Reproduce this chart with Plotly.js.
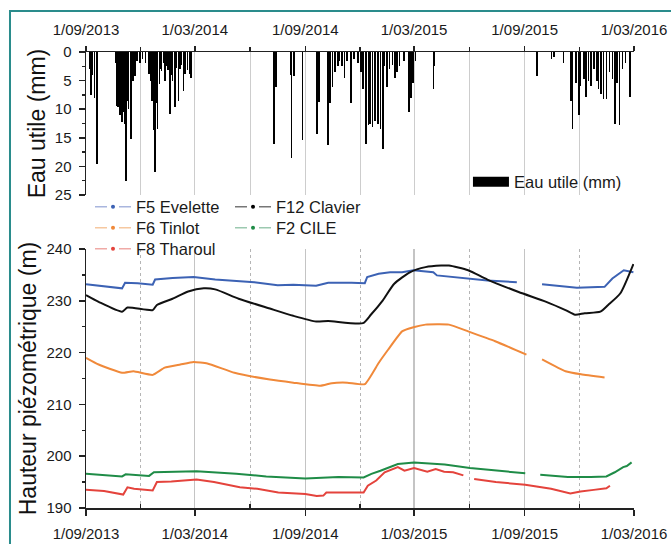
<!DOCTYPE html>
<html>
<head>
<meta charset="utf-8">
<script src="https://cdn.plot.ly/plotly-3.0.1.min.js"></script>
<style>html,body{margin:0;padding:0;background:#fff;}#chart{width:671px;height:544px;}</style>
</head>
<body>
<div id="chart"></div>
<script>
// ---------- Data ----------
const majorTicks = ['2013-09-01','2014-03-01','2014-09-01','2015-03-01','2015-09-01','2016-03-01'];
const majorLabels = ['1/09/2013','1/03/2014','1/09/2014','1/03/2015','1/09/2015','1/03/2016'];
const minorTicks = ['2013-12-01','2014-06-01','2014-12-01','2015-06-01','2015-12-01'];

// Eau utile (mm)
const rainDates = [
 '2013-09-08','2013-09-09','2013-09-12','2013-09-15','2013-09-19',
 '2013-10-20','2013-10-22','2013-10-24','2013-10-26','2013-10-28','2013-10-30','2013-10-31','2013-11-02','2013-11-04','2013-11-07','2013-11-09','2013-11-11','2013-11-15','2013-11-18','2013-11-20','2013-11-22','2013-11-25',
 '2013-11-30','2013-12-04','2013-12-09','2013-12-15','2013-12-18','2013-12-20','2013-12-23','2013-12-25','2013-12-27','2013-12-29','2014-01-01','2014-01-03','2014-01-05','2014-01-08','2014-01-10','2014-01-13','2014-01-15','2014-01-19','2014-01-21','2014-01-23','2014-01-27','2014-01-29','2014-02-02','2014-02-04','2014-02-06','2014-02-10','2014-02-13','2014-02-17','2014-02-21','2014-02-23',
 '2014-07-11','2014-07-14','2014-08-08','2014-08-09','2014-08-13','2014-08-27','2014-09-20','2014-09-24','2014-10-09','2014-10-12','2014-10-16','2014-10-20','2014-10-25','2014-10-28','2014-11-01','2014-11-05','2014-11-09','2014-11-16','2014-11-21','2014-11-28','2014-12-03','2014-12-06','2014-12-11','2014-12-15','2014-12-18','2014-12-22','2014-12-26','2014-12-31','2015-01-04','2015-01-08','2015-01-11','2015-01-15','2015-01-19','2015-01-24','2015-01-28','2015-02-01','2015-02-05','2015-02-12','2015-02-21','2015-02-24','2015-02-27','2015-03-03','2015-04-02','2015-04-04',
 '2015-09-22','2015-10-16','2015-10-20','2015-11-05','2015-11-17','2015-11-20','2015-11-25','2015-11-30','2015-12-03','2015-12-09','2015-12-12','2015-12-16','2015-12-20','2015-12-25','2015-12-30','2016-01-02','2016-01-06','2016-01-10','2016-01-15','2016-01-20','2016-01-25','2016-01-29','2016-02-02','2016-02-06','2016-02-11','2016-02-16','2016-02-23'
];
const rainValues = [
 3.0,7.5,4.0,8.0,19.5,
 2.0,9.5,9.7,8.0,11.0,9.0,12.3,10.5,12.5,22.5,8.5,10.0,15.2,5.0,2.5,4.2,1.5,
 2.0,1.3,2.0,3.9,5.0,8.5,13.7,21.0,9.0,13.4,5.6,3.0,3.3,2.0,5.0,2.5,3.2,10.8,4.0,5.0,9.7,2.8,8.5,3.0,2.2,6.8,3.8,3.2,3.8,4.6,
 16.0,6.2,4.0,18.6,4.2,15.4,14.3,8.8,16.3,9.0,6.2,3.5,2.5,1.5,2.5,4.5,1.5,9.0,1.2,2.0,3.5,6.5,16.0,12.8,12.6,13.1,12.0,12.6,13.4,16.9,2.5,6.2,3.0,2.2,4.5,3.5,2.5,1.5,10.5,8.0,5.5,1.5,6.5,2.5,
 4.2,1.2,0.9,2.0,8.5,13.4,5.5,11.1,6.0,4.7,7.9,5.0,6.0,3.0,5.0,6.5,7.3,8.2,8.2,3.5,4.7,12.6,5.5,12.8,3.0,2.0,7.9
];

// F5 Evelette
const f5Dates = ['2013-09-01','2013-09-22','2013-10-31','2013-11-05','2013-11-26','2013-12-21','2013-12-25','2014-01-23','2014-02-27','2014-04-04','2014-06-08','2014-07-17','2014-08-12','2014-09-19','2014-10-09','2014-11-17','2014-12-09','2014-12-13','2015-01-01','2015-01-20','2015-02-09','2015-02-28','2015-04-02','2015-04-08','2015-05-30','2015-07-01','2015-08-19','2015-09-10','2015-09-30','2015-11-08','2015-11-27','2016-01-12','2016-01-25','2016-02-13','2016-02-29'];
const f5Values = [233.2,232.9,232.4,233.5,233.4,233.1,234.1,234.4,234.6,234.1,233.6,233.0,233.1,232.9,233.5,233.5,233.4,234.6,235.2,235.5,235.5,235.9,235.5,234.9,234.3,233.9,233.6,null,233.2,232.7,232.5,232.7,234.3,235.9,235.5];

// F12 Clavier
const f12Dates = ['2013-09-01','2013-09-22','2013-10-31','2013-11-09','2013-12-21','2013-12-28','2014-01-23','2014-02-18','2014-03-16','2014-04-04','2014-05-13','2014-07-04','2014-08-12','2014-09-19','2014-10-09','2014-12-06','2014-12-19','2015-01-08','2015-01-27','2015-02-22','2015-03-20','2015-04-15','2015-04-28','2015-05-30','2015-07-01','2015-08-22','2015-10-07','2015-11-08','2015-11-24','2015-12-10','2016-01-05','2016-01-18','2016-02-07','2016-02-29'];
const f12Values = [231.1,229.8,227.9,228.7,228.2,229.2,230.4,231.8,232.4,232.2,230.4,228.5,227.1,226.0,226.1,225.7,227.3,230.1,233.3,235.5,236.5,236.8,236.8,235.9,234.1,231.7,229.8,228.2,227.3,227.6,227.9,229.2,231.4,237.1];

// F6 Tinlot
const f6Dates = ['2013-09-01','2013-09-22','2013-10-31','2013-11-19','2013-12-21','2014-01-10','2014-02-05','2014-02-27','2014-03-22','2014-05-06','2014-07-04','2014-08-12','2014-09-26','2014-10-15','2014-11-10','2014-12-09','2015-01-01','2015-01-17','2015-02-09','2015-02-28','2015-03-20','2015-04-28','2015-05-30','2015-07-14','2015-09-04','2015-09-15','2015-09-30','2015-11-08','2015-12-04','2016-01-12'];
const f6Values = [219.0,217.7,216.1,216.4,215.7,217.1,217.7,218.2,217.9,216.1,214.8,214.2,213.6,214.1,214.2,213.9,218.0,220.6,224.1,224.9,225.4,225.4,224.1,222.2,219.6,null,218.7,216.4,215.8,215.2];

// F2 CILE
const f2Dates = ['2013-09-01','2013-10-01','2013-10-31','2013-11-06','2013-12-15','2013-12-23','2014-01-29','2014-03-04','2014-05-09','2014-06-28','2014-09-01','2014-10-01','2014-10-26','2014-12-07','2014-12-20','2015-01-04','2015-01-19','2015-02-02','2015-03-01','2015-04-21','2015-06-02','2015-07-23','2015-09-02','2015-09-15','2015-09-27','2015-11-12','2015-12-20','2016-01-15','2016-01-29','2016-02-12','2016-02-18','2016-02-26'];
const f2Values = [196.6,196.4,196.1,196.5,196.2,196.9,197.0,197.1,196.6,196.1,195.7,195.8,196.0,195.9,196.6,197.2,197.9,198.5,198.8,198.4,197.7,197.1,196.7,null,196.4,196.0,196.0,196.1,196.9,197.9,198.1,198.8];

// F8 Tharoul
const f8Dates = ['2013-09-01','2013-10-01','2013-11-02','2013-11-06','2013-11-09','2013-11-20','2013-12-21','2013-12-28','2014-01-21','2014-03-04','2014-04-02','2014-05-15','2014-06-13','2014-07-18','2014-09-01','2014-09-20','2014-10-01','2014-10-06','2014-12-07','2014-12-14','2014-12-28','2015-01-11','2015-01-26','2015-02-02','2015-02-13','2015-03-01','2015-03-23','2015-04-06','2015-04-20','2015-05-05','2015-05-22','2015-06-01','2015-06-09','2015-07-15','2015-09-02','2015-10-15','2015-11-16','2015-12-03','2015-12-25','2016-01-15','2016-01-21'];
const f8Values = [193.5,193.3,192.6,193.3,194.0,193.7,193.4,195.0,195.1,195.5,195.0,194.0,193.7,193.0,192.7,192.3,192.4,193.0,193.0,194.3,195.3,196.9,197.5,197.9,197.2,197.7,197.0,197.5,197.0,196.9,196.3,null,195.6,195.0,194.5,193.7,192.8,193.2,193.5,193.8,194.3];

const yTopTicks = [0,5,10,15,20,25];
const yBotTicks = [190,200,210,220,230,240];
const yBotGrid = [200,210,220,230];

// ---------- Styles ----------
const C = {blue:'#3c62b4', black:'#111111', orange:'#f0893a', green:'#1f8c47', red:'#e4433c'};
const CL = {blue:'#a9b6de', black:'#777777', orange:'#f6c8a0', green:'#9cc9b0', red:'#f0aaa6'};
const FONT = 'Liberation Sans, Arial, sans-serif';

function series(x, y, color, smooth) {
  const ln = {color:color, width:2};
  if (smooth) { ln.shape = 'spline'; ln.smoothing = smooth; }
  return {x:x, y:y, type:'scatter', mode:'lines', xaxis:'x2', yaxis:'y2',
          line:ln, connectgaps:false, showlegend:false, hoverinfo:'skip'};
}
function legendEntry(name, color, dotColor, legend) {
  return {x:[null], y:[null], type:'scatter', mode:'lines+markers', xaxis:'x2', yaxis:'y2',
          name:name, legend:legend, showlegend:true,
          line:{color:color, width:1.5, dash:'12px,12px'},
          marker:{color:dotColor, size:4}};
}

const traces = [
  {x:rainDates, y:rainValues, type:'bar', xaxis:'x', yaxis:'y', base:0,
   width:2.6*86400000, marker:{color:'#000', line:{width:0}}, showlegend:false, hoverinfo:'skip'},
  series(f5Dates, f5Values, C.blue),
  series(f12Dates, f12Values, C.black, 0.6),
  series(f6Dates, f6Values, C.orange, 0.4),
  series(f2Dates, f2Values, C.green),
  series(f8Dates, f8Values, C.red),
  legendEntry('F5 Evelette', CL.blue, C.blue, 'legend'),
  legendEntry('F6 Tinlot', CL.orange, C.orange, 'legend2'),
  legendEntry('F8 Tharoul', CL.red, C.red, 'legend3'),
  legendEntry('F12 Clavier', CL.black, '#000', 'legend4'),
  legendEntry('F2 CILE', CL.green, C.green, 'legend5'),
  {x:[null], y:[null], type:'scatter', mode:'lines', xaxis:'x', yaxis:'y', name:'Eau utile (mm)',
   legend:'legend6', showlegend:true, line:{color:'#000', width:10}}
];

function leg(x, y) {
  return {x:x, y:y, xanchor:'left', yanchor:'middle', bgcolor:'rgba(0,0,0,0)', borderwidth:0,
          itemwidth:36, font:{family:FONT, size:16.5, color:'#1a1a1a'}};
}

const xRange = ['2013-09-01','2016-03-01'];
const axisCol = '#222';
const layout = {
  width:671, height:544,
  margin:{l:86, r:37, t:52, b:36},
  paper_bgcolor:'#fff', plot_bgcolor:'#fff',
  font:{family:FONT, size:15, color:'#1a1a1a'},
  bargap:0,
  xaxis:{domain:[0,1], anchor:'y', side:'top', type:'date', range:xRange,
         tickmode:'array', tickvals:majorTicks, ticktext:majorLabels,
         ticks:'outside', ticklen:5, tickwidth:1.5, tickcolor:axisCol, ticklabelstandoff:5,
         showline:true, linecolor:axisCol, linewidth:1.5,
         showgrid:true, gridcolor:'#cdcdcd', gridwidth:1, zeroline:false,
         minor:{tickvals:minorTicks, ticks:'outside', ticklen:4, tickcolor:axisCol, showgrid:true, gridcolor:'#cdcdcd', gridwidth:1}},
  yaxis:{domain:[0.6864,1], anchor:'x', range:[25,0], tickmode:'array', tickvals:yTopTicks,
         ticks:'outside', ticklen:6, tickwidth:1.5, tickcolor:axisCol, ticklabelstandoff:4,
         showline:true, linecolor:axisCol, linewidth:1.5, showgrid:false, zeroline:false,
         minor:{tick0:0, dtick:2.5, ticks:'outside', ticklen:3, tickcolor:axisCol},
         title:{text:'Eau utile (mm)', font:{family:FONT, size:23, color:'#111'}, standoff:3}},
  xaxis2:{domain:[0,1], anchor:'y2', type:'date', range:xRange,
         tickmode:'array', tickvals:majorTicks, ticktext:majorLabels,
         ticks:'outside', ticklen:6, tickwidth:1.5, tickcolor:axisCol, ticklabelstandoff:5,
         showline:true, linecolor:axisCol, linewidth:1.5,
         showgrid:true, gridcolor:'#c4c4c4', gridwidth:1.2, zeroline:false,
         minor:{tickvals:minorTicks, ticks:'inside', ticklen:4, tickcolor:axisCol, showgrid:true, gridcolor:'#b5b5b5', griddash:'dot', gridwidth:1}},
  yaxis2:{domain:[0,0.568], anchor:'x2', range:[190,240], tickmode:'array', tickvals:yBotTicks,
         ticks:'outside', ticklen:6, tickwidth:1.5, tickcolor:axisCol, ticklabelstandoff:4,
         showline:true, linecolor:axisCol, linewidth:1.5, showgrid:false, zeroline:false,
         minor:{tick0:190, dtick:5, ticks:'outside', ticklen:3, tickcolor:axisCol},
         title:{text:'Hauteur piézométrique (m)', font:{family:FONT, size:23, color:'#111'}, standoff:3}},
  yaxis3:{overlaying:'y2', anchor:'x2', range:[190,240], tickmode:'array', tickvals:yBotGrid,
         showticklabels:false, ticks:'', showline:false, showgrid:true, gridcolor:'#c4c4c4', gridwidth:1.2, zeroline:false},
  legend: leg(0.0073, 0.660),
  legend2: leg(0.0073, 0.614),
  legend3: leg(0.0073, 0.568),
  legend4: leg(0.2628, 0.660),
  legend5: leg(0.2628, 0.614),
  legend6: leg(0.697, 0.715),
  shapes:[{type:'rect', xref:'paper', yref:'paper', x0:-0.1387, x1:1.1, y0:-0.12, y1:1.0899,
           line:{color:'#2a8c8c', width:2}, fillcolor:'rgba(0,0,0,0)', layer:'below'}],
  showlegend:true
};

Plotly.newPlot('chart', traces, layout, {staticPlot:true, displayModeBar:false});
</script>
</body>
</html>
